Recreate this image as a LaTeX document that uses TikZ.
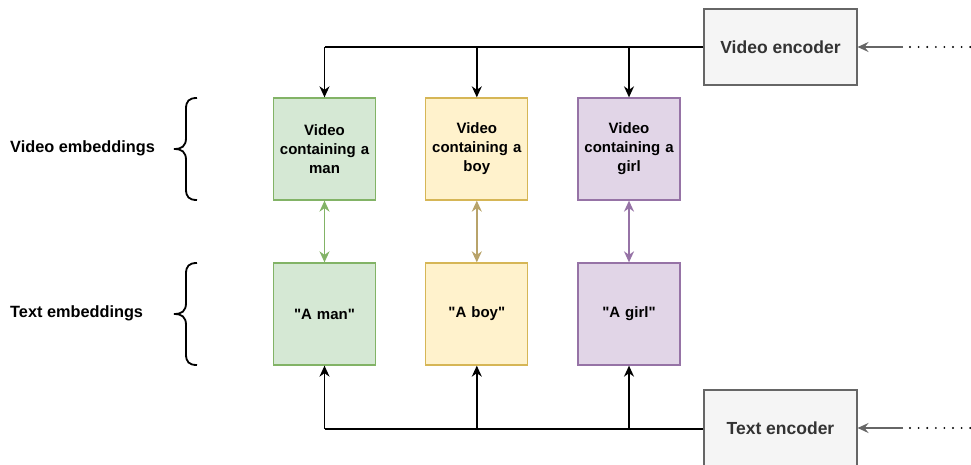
\documentclass[tikz,border=0pt]{standalone}
\usepackage{fontspec}
\setmainfont{Liberation Sans}[Ligatures=TeXOff]
\usetikzlibrary{arrows.meta}
\definecolor{gfill}{HTML}{D5E8D4}\definecolor{gline}{HTML}{82B366}
\definecolor{yfill}{HTML}{FFF2CC}\definecolor{yline}{HTML}{D6B656}
\definecolor{pfill}{HTML}{E1D5E7}\definecolor{pline}{HTML}{9673A6}
\definecolor{efill}{HTML}{F5F5F5}\definecolor{eline}{HTML}{666666}
\definecolor{etext}{HTML}{333333}
\definecolor{ylink}{HTML}{B8A36A}
\begin{document}
\begin{tikzpicture}[x=1pt,y=-1pt,
  emb/.style={draw=#1line,fill=#1fill,line width=1.3pt,minimum width=102pt,minimum height=102pt,
    inner sep=0pt,align=center,font=\fontsize{15}{19}\selectfont\bfseries,text width=100pt},
  enc/.style={draw=eline,fill=efill,line width=1.1pt,minimum width=153pt,minimum height=76pt,
    inner sep=0pt,font=\fontsize{17.5}{21}\selectfont\bfseries,text=etext},
  lab/.style={anchor=west,inner sep=0pt,font=\fontsize{16.3}{19}\selectfont\bfseries},
  feed/.style={line width=1.5pt,-{Stealth[length=11pt,width=10pt,inset=3.5pt]}},
  link/.style={line width=1.5pt,{Stealth[length=11pt,width=10pt,inset=3.5pt]}-{Stealth[length=11pt,width=10pt,inset=3.5pt]}},
  inp/.style={line width=1.8pt,eline,-{Stealth[length=11pt,width=10pt,inset=4pt]}},
  dots/.style={line width=2.1pt,line cap=round,dash pattern=on 0pt off 8.6pt},
  brc/.style={line width=1.8pt}]
\useasboundingbox (0,0) rectangle (971,465);

% encoders
\node[enc] (venc) at (780.5,47) {Video encoder};
\node[enc] (tenc) at (780.5,428) {Text encoder};

% embedding boxes
\node[emb=g] (vman) at (324.5,149) {Video\\containing a\\man};
\node[emb=y] (vboy) at (476.8,149) {Video\\containing a\\boy};
\node[emb=p] (vgirl) at (629,149) {Video\\containing a\\girl};
\node[emb=g] (tman) at (324.5,314) {"A man"};
\node[emb=y] (tboy) at (476.8,314) {"A boy"};
\node[emb=p] (tgirl) at (629,314) {"A girl"};

% video encoder feeds the video embeddings
\draw[line width=1.5pt] (venc.west) -- (vman.north |- venc.west);
\foreach \b in {vman,vboy,vgirl}
  \draw[feed] (\b.north |- venc.west) -- (\b.north);

% text encoder feeds the text embeddings
\draw[line width=1.5pt] (tenc.west |- 0,429) -- (tman.south |- 0,429);
\foreach \b in {tman,tboy,tgirl}
  \draw[feed] (\b.south |- 0,429) -- (\b.south);

% pairing between video and text embeddings
\draw[link,gline] (vman.south) -- (tman.north);
\draw[link,ylink] (vboy.south) -- (tboy.north);
\draw[link,pline] (vgirl.south) -- (tgirl.north);

% inputs of the encoders
\coordinate (vin) at (903,47);
\coordinate (tin) at (903,428);
\draw[inp] (vin) -- (venc.east);
\draw[inp] (tin) -- (tenc.east);
\draw[dots] (910,47) -- (975,47);
\draw[dots] (910,428) -- (975,428);

% braces and row labels
\foreach \yt/\nm in {98/bv,263/bt}{
  \draw[brc] (197,\yt) .. controls (189,\yt) and (186,\yt+3) .. (186,\yt+11)
    -- (186,\yt+40) .. controls (186,\yt+48) and (182,\yt+51) .. (174,\yt+51)
    .. controls (182,\yt+51) and (186,\yt+54) .. (186,\yt+62)
    -- (186,\yt+91) .. controls (186,\yt+99) and (189,\yt+102) .. (197,\yt+102);
}
\node[lab] (lv) at (10,148) {Video embeddings};
\node[lab] (lt) at (10,313) {Text embeddings};
\end{tikzpicture}
\end{document}
